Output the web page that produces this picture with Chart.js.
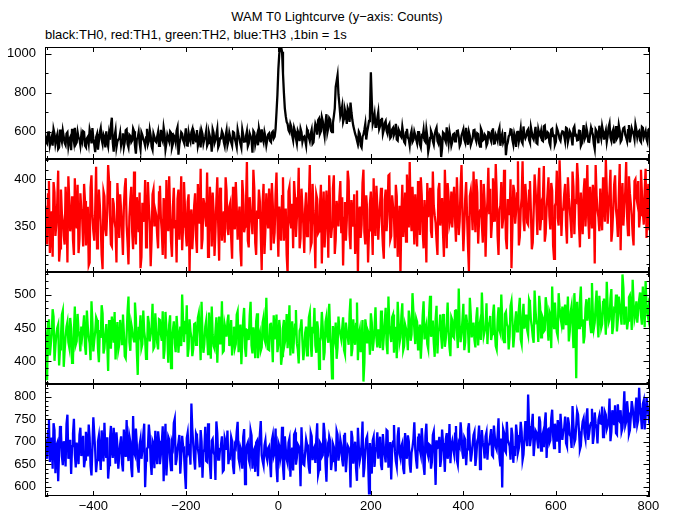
<!DOCTYPE html>
<html>
<head>
<meta charset="utf-8">
<script src="https://cdn.jsdelivr.net/npm/chart.js@4.4.1/dist/chart.umd.min.js"></script>
<style>
  body { margin: 0; background: #fff; }
  #wrap { position: relative; width: 674px; height: 515px; font-family: 'Liberation Sans', Arial, sans-serif; font-size: 13px; color: #000; }
  #wrap canvas { position: absolute; left: 0; top: 0; }
  .txt { position: absolute; white-space: nowrap; line-height: 15px; }
</style>
</head>
<body>
<div id="wrap">
  <div class="txt" style="left:0;width:674px;text-align:center;top:9px">WAM T0 Lightcurve (y−axis: Counts)</div>
  <div class="txt" style="left:45px;top:27px">black:TH0, red:TH1, green:TH2, blue:TH3 ,1bin = 1s</div>
  <canvas id="c0" width="674" height="515"></canvas>
  <canvas id="c1" width="674" height="515"></canvas>
  <canvas id="c2" width="674" height="515"></canvas>
  <canvas id="c3" width="674" height="515"></canvas>
</div>
<script>
// time bins (s): 1bin = 1s; values every 2s,
// "a" arrays at t = -504, -500, ... and "b" arrays at t = -502, -498, ...
const tStartA = -504, tStartB = -502, tStep = 4;

// TH0 (black)
const th0a = [
  580,540,602,555,528,590,566,512,611,548,575,532,597,560,505,583,620,545,570,530,
  556,598,521,574,610,540,563,495,588,552,618,537,571,602,526,559,672,498,606,549,
  565,530,592,548,612,520,578,556,603,487,570,541,596,562,529,615,552,580,508,574,
  547,599,533,568,621,510,583,550,594,538,572,605,482,561,590,544,617,529,566,598,
  536,575,609,549,520,588,561,603,541,576,498,595,558,614,533,569,590,527,606,552,
  571,529,598,545,610,563,518,584,550,602,540,577,492,596,561,530,589,612,548,573,
  560,592,548,601,575,700,920,1030,1010,800,680,640,598,625,556,603,540,590,615,548,
  575,530,598,552,610,545,640,585,668,602,655,578,690,620,662,598,680,830,890,740,
  700,650,712,640,705,750,660,610,575,540,590,520,585,640,600,655,905,640,690,625,
  700,630,672,610,655,590,640,575,620,598,560,612,580,625,548,596,570,530,605,558,
  582,541,603,520,575,556,612,498,568,590,535,607,552,580,470,596,561,623,540,572,
  548,590,563,605,527,581,612,545,570,598,533,566,609,551,588,524,602,560,579,541,
  596,553,618,540,575,602,528,589,560,480,546,583,610,535,570,597,552,615,540,580,
  578,612,545,596,560,625,538,590,603,552,632,570,592,530,615,580,548,606,563,588,
  600,552,618,571,593,530,627,583,558,609,540,634,575,596,548,620,585,512,603,541,
  590,628,560,606,579,642,553,611,587,566,633,549,600,622,571,608,545,617,589,636,
  572,604,548,620,586,563,610,580
];
const th0b = [
  548,595,531,574,612,538,585,520,569,604,543,590,527,571,615,550,536,598,562,583,
  602,529,566,541,587,619,534,572,508,596,561,585,519,548,589,633,545,577,520,560,
  593,556,521,607,538,584,547,616,529,562,598,510,583,549,571,536,609,524,590,553,
  575,528,610,553,589,542,566,601,519,580,546,623,535,597,558,572,530,594,549,613,
  592,550,527,581,606,539,574,528,596,557,612,542,585,520,566,603,548,579,531,594,
  546,600,563,522,585,538,611,549,577,526,591,560,604,535,582,616,545,568,597,531,
  586,554,595,566,615,790,1000,1035,900,720,650,608,640,580,620,566,604,552,597,570,
  556,612,571,590,538,600,625,660,590,675,610,648,596,670,605,645,720,860,790,680,
  730,668,690,720,650,700,630,590,555,600,530,575,610,560,625,680,760,660,625,670,
  615,660,590,645,605,630,568,612,585,640,555,600,572,590,540,615,562,585,548,600,
  560,598,535,580,610,548,575,525,604,552,585,620,540,571,515,590,548,576,600,529,
  586,551,603,574,540,596,560,620,533,578,549,607,568,592,541,615,555,586,529,598,
  568,604,539,586,556,620,571,545,598,530,577,612,559,590,522,605,579,550,627,566,
  604,559,623,571,590,542,612,580,556,628,566,597,545,611,579,534,620,587,553,602,
  579,621,548,603,565,617,581,556,606,528,594,562,620,549,586,601,538,612,575,631,
  566,602,585,548,622,570,597,540,629,575,605,558,618,585,552,634,578,600,562,610,
  598,556,625,571,603,547,615
];

// TH1 (red)
const th1a = [
  372,331,398,345,318,386,352,409,327,364,340,392,312,377,355,336,401,348,322,385,
  358,395,330,371,312,404,345,366,327,389,351,305,382,340,415,362,329,374,348,396,
  338,367,320,391,352,310,379,344,408,331,365,386,318,355,399,342,372,308,384,350,
  362,327,393,345,380,316,357,403,334,370,348,312,389,361,325,397,343,376,302,368,
  347,385,322,360,411,337,374,350,318,392,329,366,345,402,314,379,356,333,388,341,
  375,316,359,397,336,371,308,383,350,418,328,365,342,390,320,358,377,304,395,346,
  361,390,325,373,344,407,318,356,382,335,369,300,392,348,327,381,359,412,338,370,
  322,386,352,415,333,367,306,379,345,394,361,328,388,317,372,350,404,336,365,381,
  343,309,376,357,398,326,362,384,339,300,371,352,410,331,368,346,387,320,357,393,
  336,374,352,316,389,363,405,340,371,327,382,350,300,394,358,334,376,418,345,366,
  384,329,367,402,345,378,312,360,391,338,372,354,320,396,365,343,410,327,381,357,
  349,392,334,370,356,415,324,379,361,303,388,346,373,400,332,367,352,395,318,376,
  363,338,401,355,386,320,372,348,410,337,379,362,306,394,353,385,330,368,419,345,
  377,352,398,326,366,389,341,412,358,381,334,370,402,347,388,316,375,359,420,340,
  368,395,332,381,355,408,342,376,399,328,364,386,350,415,337,372,394,311,383,360,
  390,346,378,421,353,387,334,369,404,358,381,325,396,372,418,341,385,362,330,400,
  375,349,410,366,388,338,395,370
];
const th1b = [
  351,384,322,366,397,340,375,313,389,356,331,370,403,345,382,320,361,394,337,368,
  329,377,350,309,391,362,335,413,354,373,320,387,347,366,398,331,380,355,312,373,
  384,346,371,401,333,360,392,326,355,381,344,306,375,362,328,397,354,337,389,367,
  341,386,359,320,372,399,345,365,318,391,357,379,336,403,350,371,329,384,360,326,
  372,339,395,353,326,380,360,407,341,369,386,319,377,352,391,335,366,402,348,371,
  338,392,347,370,358,325,399,344,372,335,381,355,410,333,367,389,342,375,321,385,
  348,373,396,332,384,357,371,335,402,360,320,387,355,374,398,339,368,327,390,352,
  369,340,378,329,395,350,384,343,372,311,387,351,367,404,338,390,321,377,350,398,
  381,359,335,409,342,378,350,321,388,365,338,396,344,383,312,374,356,401,340,372,
  357,391,330,378,345,404,336,383,359,394,318,372,361,339,386,405,349,362,392,331,
  362,398,341,383,327,355,396,374,345,408,362,335,389,351,380,318,374,396,352,387,
  375,358,402,341,391,364,350,397,329,382,370,408,344,386,357,399,333,376,360,412,
  390,356,379,416,340,368,397,358,383,326,371,400,348,388,366,419,339,380,357,395,
  354,388,366,333,405,371,390,346,378,414,343,385,361,396,330,372,409,351,387,368,
  384,351,402,369,338,392,377,417,352,386,342,401,374,359,392,348,381,415,367,345,
  361,402,355,389,372,410,346,394,368,339,416,378,351,387,360,403,374,342,398,381,
  398,362,385,352,411,376,346
];

// TH2 (green)
const th2a = [
  448,372,463,425,478,401,440,455,418,470,392,437,459,421,450,405,482,430,446,415,
  438,469,410,452,427,490,415,444,462,399,435,472,420,456,386,441,467,428,403,459,
  425,451,470,408,439,497,416,448,430,465,380,444,420,476,433,412,458,440,486,422,
  445,418,462,431,404,474,437,455,390,446,427,468,413,452,500,429,441,407,463,436,
  419,457,434,472,402,440,426,461,411,448,482,423,445,398,467,432,414,455,437,470,
  431,409,452,426,475,441,396,463,420,447,432,489,412,438,460,405,443,421,466,428,
  440,417,458,399,433,470,425,446,408,462,436,420,484,443,412,455,427,397,450,431,
  418,452,430,473,407,442,424,460,389,436,451,414,467,428,445,375,439,458,421,448,
  433,466,411,445,425,494,419,437,456,402,448,430,370,463,427,441,472,416,450,435,
  448,420,465,437,480,411,452,429,470,444,405,458,436,487,423,449,417,462,440,475,
  426,459,441,404,468,433,455,419,498,446,428,463,412,450,437,471,422,456,444,408,
  462,435,478,420,452,441,486,429,458,413,470,447,432,465,424,459,503,438,451,426,
  455,432,470,446,418,481,442,463,429,474,452,437,490,421,460,445,478,433,468,449,
  470,440,487,452,428,476,459,498,436,465,447,483,431,469,512,450,462,438,480,457,
  448,485,462,430,474,455,502,375,468,490,452,427,479,461,495,444,470,458,506,436,
  472,456,494,440,481,463,508,452,476,445,497,468,530,455,482,461,499,447,487,470,
  458,492,469,512,451,484,463,497
];
const th2b = [
  430,458,409,441,467,422,450,394,438,476,416,452,429,465,398,444,425,471,436,452,
  451,423,476,436,402,458,431,466,419,447,484,412,441,428,462,419,450,474,436,417,
  462,426,443,405,475,429,456,437,488,415,452,469,426,445,404,468,430,451,419,472,
  428,463,440,475,417,450,398,469,432,460,414,447,437,423,461,452,484,419,445,408,
  456,425,465,441,489,413,452,437,473,404,440,419,466,438,427,490,416,447,460,423,
  462,437,420,470,414,455,432,480,407,446,468,424,451,405,472,437,416,458,433,495,
  418,455,432,469,447,414,462,395,450,428,471,443,409,460,435,477,418,446,463,402,
  443,409,466,425,452,480,413,448,430,474,402,459,437,486,419,453,431,404,467,441,
  449,417,458,436,471,408,463,425,488,441,414,462,398,452,445,410,458,430,481,421,
  433,476,417,459,426,497,441,466,413,452,489,428,468,417,455,438,476,431,502,447,
  464,418,455,432,490,448,426,472,437,461,407,483,445,470,419,459,434,488,421,466,
  437,475,446,509,429,462,417,470,448,495,436,458,421,481,451,432,468,445,487,456,
  468,441,485,423,461,447,500,434,471,456,418,483,462,439,475,452,495,426,486,460,
  447,492,462,437,506,458,429,481,469,445,496,455,474,420,463,488,444,502,466,482,
  471,456,497,445,483,420,468,489,450,512,463,438,493,474,456,517,449,485,462,498,
  450,489,470,519,458,494,441,478,500,462,484,455,510,472,448,496,480,522,463,490,
  476,503,455,488,520,470,493
];

// TH3 (blue)
const th3a = [
  705,662,748,680,640,726,691,612,735,668,701,645,760,683,628,717,672,698,650,731,
  688,643,722,667,709,625,754,681,659,713,637,695,742,664,618,706,679,731,651,690,
  670,712,634,689,748,657,700,621,676,729,648,693,662,715,599,684,738,655,702,641,
  681,723,650,696,612,740,668,705,637,689,751,660,698,629,713,674,595,720,686,785,
  694,638,712,671,726,620,683,657,741,648,702,676,615,719,660,693,634,708,682,650,
  665,701,628,688,744,652,679,710,606,692,661,725,640,684,698,623,716,670,647,703,
  659,690,621,714,676,642,698,660,733,615,684,652,707,671,636,721,664,690,601,680,
  648,705,667,629,712,683,653,741,638,694,670,719,611,680,702,657,688,634,716,674,
  692,645,720,663,687,598,709,676,640,731,658,695,621,683,712,585,667,703,644,690,
  662,711,637,688,654,724,671,616,700,679,645,732,663,697,628,685,714,650,676,706,
  683,640,718,671,699,626,740,668,692,655,723,604,686,711,661,697,633,719,680,652,
  701,672,735,649,690,717,662,705,683,741,656,694,722,668,708,639,726,687,712,660,
  694,728,667,711,682,752,645,598,720,676,704,690,731,653,668,715,686,744,659,708,
  712,805,690,737,668,725,701,756,680,719,742,664,728,703,771,686,722,748,675,731,
  724,756,690,741,712,779,698,735,760,683,727,752,706,774,718,742,695,765,729,748,
  741,778,712,760,735,796,722,754,781,716,748,770,730,812,744,765,725,790,752,772,
  738,820,756,784,727,798,762,780
];
const th3b = [
  682,724,655,709,741,630,697,676,722,648,685,739,662,704,690,751,643,681,715,668,
  713,660,696,738,646,688,717,632,700,677,725,656,681,710,648,735,664,698,721,640,
  695,652,727,666,683,712,642,757,670,694,631,706,679,740,658,688,713,626,696,724,
  650,702,671,734,688,625,711,660,697,742,648,685,715,667,690,631,708,679,649,727,
  661,718,684,643,701,677,733,655,692,617,706,671,745,660,684,712,637,699,725,668,
  710,646,693,722,663,687,640,728,671,698,652,714,679,633,702,688,746,657,692,668,
  686,655,703,668,729,610,691,672,645,712,661,698,622,687,716,649,694,673,732,650,
  677,694,642,720,659,688,706,627,698,666,742,650,689,711,637,695,672,724,658,705,
  660,713,632,691,676,724,651,700,613,688,669,745,642,706,660,697,629,711,676,721,
  694,648,717,670,726,642,699,684,737,657,712,673,690,640,719,662,701,631,688,743,
  658,709,682,730,646,713,677,694,640,715,669,703,688,644,727,675,706,662,739,691,
  684,718,659,696,743,675,710,648,728,692,672,715,646,701,736,681,699,663,721,694,
  712,670,736,688,714,665,707,728,680,744,697,660,715,690,738,676,703,722,671,746,
  690,735,707,762,696,721,685,744,710,688,765,726,697,752,713,740,700,731,762,704,
  730,697,754,715,686,737,705,768,723,691,745,718,755,704,736,773,713,740,696,758,
  740,710,766,728,751,701,770,737,719,783,745,722,762,736,790,717,754,775,730,798,
  748,775,728,792,755,780,740
];

// tick labels
const xMajor = [-400, -200, 0, 200, 400, 600, 800];
const xMinor = [-500, -300, -100, 100, 300, 500, 700];
const yLabels0 = [600, 800, 1000];
const yLabels1 = [350, 400];
const yLabels2 = [400, 450, 500];
const yLabels3 = [600, 650, 700, 750, 800];

const font = { family: "'Liberation Sans', Arial, sans-serif", size: 13 };
const fmt = v => String(v).replace('-', '\u2212');

function steps(a, b, s) {
  const out = [];
  for (let v = a; v <= b; v += s) out.push(v);
  return out;
}

// put the two readings back in time order
function series(a, b) {
  const out = [];
  a.forEach((y, i) => {
    out.push({ x: tStartA + i * tStep, y });
    if (i < b.length) out.push({ x: tStartB + i * tStep, y: b[i] });
  });
  return out;
}

// gnuplot-like frame with inward ticks on all four sides
const framePlugin = {
  id: 'frame',
  afterDatasetsDraw(chart, args, opts) {
    const { ctx, chartArea: a, scales } = chart;
    const xs = scales.x, ys = scales.y;
    ctx.save();
    ctx.strokeStyle = '#000';
    ctx.lineWidth = 1;
    ctx.beginPath();
    const xt = (v, len) => {
      const px = Math.round(xs.getPixelForValue(v)) + 0.5;
      ctx.moveTo(px, a.top); ctx.lineTo(px, a.top + len);
      ctx.moveTo(px, a.bottom); ctx.lineTo(px, a.bottom - len);
    };
    const yt = (v, len) => {
      const py = Math.round(ys.getPixelForValue(v)) + 0.5;
      ctx.moveTo(a.left, py); ctx.lineTo(a.left + len, py);
      ctx.moveTo(a.right, py); ctx.lineTo(a.right - len, py);
    };
    xMajor.forEach(v => xt(v, 5));
    xMinor.forEach(v => xt(v, 3));
    opts.minor.forEach(v => yt(v, 3.5));
    opts.major.forEach(v => yt(v, 6.5));
    ctx.stroke();
    ctx.strokeRect(a.left + 0.5, a.top + 0.5, a.right - a.left - 1, a.bottom - a.top - 1);
    ctx.restore();
  }
};

function makePanel(id, a, b, color, yMin, yMax, yLabels, yMinor, top, bottom, showX) {
  const xH = showX ? 19 : 0;
  return new Chart(document.getElementById(id), {
    type: 'line',
    data: {
      datasets: [{ data: series(a, b), borderColor: color, borderWidth: 2.3, pointRadius: 0, fill: false, tension: 0 }]
    },
    options: {
      responsive: false,
      animation: false,
      devicePixelRatio: 1,
      layout: { padding: { left: 0, right: 24, top: top, bottom: 515 - bottom - xH } },
      plugins: {
        legend: { display: false },
        tooltip: { enabled: false },
        frame: { major: yLabels, minor: yMinor }
      },
      scales: {
        x: {
          type: 'linear', min: -504.5, max: 803.5, display: showX,
          grid: { display: false, drawTicks: false }, border: { display: false },
          afterBuildTicks: s => { s.ticks = xMajor.map(v => ({ value: v })); },
          afterFit: s => { s.height = xH; },
          ticks: { autoSkip: false, maxRotation: 0, padding: 3, color: '#000', font, callback: v => fmt(v) }
        },
        y: {
          min: yMin, max: yMax,
          grid: { display: false, drawTicks: false }, border: { display: false },
          afterBuildTicks: s => { s.ticks = yLabels.map(v => ({ value: v })); },
          afterFit: s => { s.width = 45; },
          ticks: { autoSkip: false, padding: 9, color: '#000', font, callback: v => fmt(v) }
        }
      }
    },
    plugins: [framePlugin]
  });
}

makePanel('c0', th0a, th0b, '#000000', 460, 1035, yLabels0, steps(500, 1000, 100), 47, 159, false);
makePanel('c1', th1a, th1b, '#ff0000', 302, 421.3, yLabels1, steps(310, 420, 10), 159, 272, false);
makePanel('c2', th2a, th2b, '#00ff00', 366.4, 533.6, yLabels2, steps(370, 530, 10), 272, 384, false);
makePanel('c3', th3a, th3b, '#0000ff', 579.3, 828.2, yLabels3, steps(580, 820, 10), 384, 496, true);
</script>
</body>
</html>
